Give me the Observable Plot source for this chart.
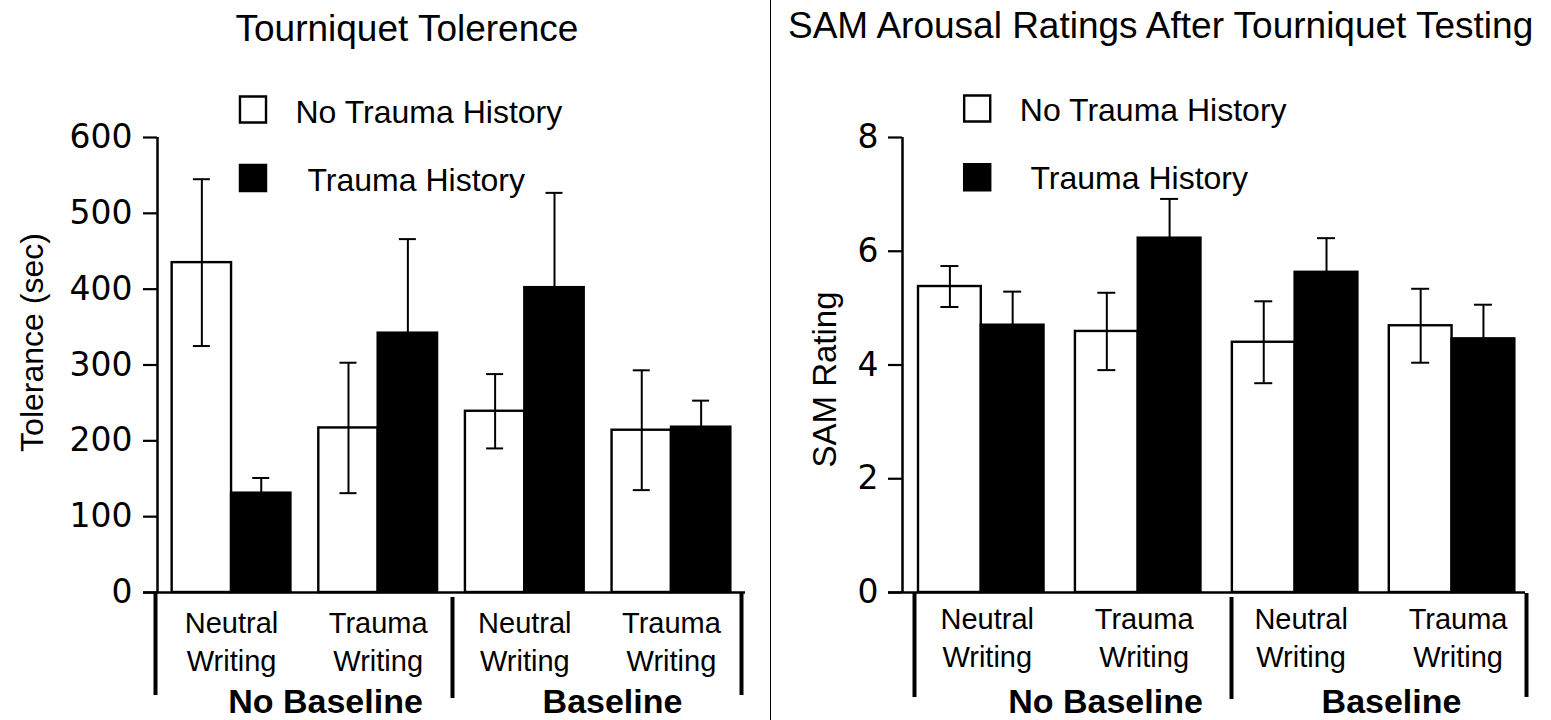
<!DOCTYPE html>
<html><head><meta charset="utf-8">
<script src="https://cdn.jsdelivr.net/npm/d3@7"></script>
<script src="https://cdn.jsdelivr.net/npm/@observablehq/plot@0.6"></script>
<style>
body{margin:0;background:#fff;}
#wrap{position:relative;width:1551px;height:720px;overflow:hidden;background:#fff;}
#left,#right{position:absolute;top:0;height:720px;}
#left{left:0;width:771px;}
#right{left:771px;width:780px;}
#divider{position:absolute;left:770px;top:0;width:1.6px;height:720px;background:#000;}
svg{overflow:visible;}
</style></head><body>
<div id="wrap"><div id="left"></div><div id="divider"></div><div id="right"></div></div>
<script>
// ---- data ----
const conditions = ["No Baseline", "No Baseline", "Baseline", "Baseline"];
const writing = ["Neutral Writing", "Trauma Writing", "Neutral Writing", "Trauma Writing"];
const historyLabels = ["No Trauma History", "Trauma History"];
const tolNoTrauma = [435, 217, 239, 214];
const tolNoTraumaSE = [110, 86, 49, 79];
const tolTrauma = [131, 342, 402, 218];
const tolTraumaSE = [20, 124, 125, 35];
const samNoTrauma = [5.38, 4.59, 4.40, 4.69];
const samNoTraumaSE = [0.36, 0.68, 0.72, 0.65];
const samTrauma = [4.70, 6.23, 5.63, 4.46];
const samTraumaSE = [0.59, 0.69, 0.60, 0.60];
const tolTicks = [0, 100, 200, 300, 400, 500, 600];
const samTicks = [0, 2, 4, 6, 8];
const superLabels = ["No Baseline", "Baseline"];

const SANS = "'Liberation Sans', Arial, Helvetica, sans-serif";

function panel(cfg) {
  const keys = writing.map((w, i) => conditions[i] + "|" + w);
  const white = keys.map((k, i) => ({key: k, mean: cfg.a[i], se: cfg.aSE[i]}));
  const black = keys.map((k, i) => ({key: k, mean: cfg.b[i], se: cfg.bSE[i]}));
  const W = cfg.width, H = 720, mt = cfg.mt, mb = cfg.mb, ml = cfg.ml, mr = cfg.mr;
  const band = d3.scaleBand().domain(keys).range([ml, W - mr])
    .paddingInner(cfg.pi).paddingOuter(cfg.po).align(cfg.align);
  const bw = band.bandwidth();
  const center = k => band(k) + bw / 2;
  const at = (x, y) => ({frameAnchor: "top-left", dx: x - ml, dy: y - mt});
  const frameBottom = H - mb;
  const capW = cfg.capW;
  const L = cfg.legend;

  const marks = [
    // bars
    Plot.barY(white, {x: "key", y: "mean", fill: "white", stroke: "black", strokeWidth: 2.4, insetRight: bw / 2}),
    Plot.barY(black, {x: "key", y: "mean", fill: "black", stroke: "black", strokeWidth: 2.4, insetLeft: bw / 2}),
    // error bars
    Plot.ruleX(white, {x: "key", y1: d => d.mean - d.se, y2: d => d.mean + d.se, dx: -bw / 4, strokeWidth: 2}),
    Plot.tickY(white, {x: "key", y: d => d.mean + d.se, insetLeft: bw / 4 - capW / 2, insetRight: 3 * bw / 4 - capW / 2, strokeWidth: 2}),
    Plot.tickY(white, {x: "key", y: d => d.mean - d.se, insetLeft: bw / 4 - capW / 2, insetRight: 3 * bw / 4 - capW / 2, strokeWidth: 2}),
    Plot.ruleX(black, {x: "key", y1: d => d.mean, y2: d => d.mean + d.se, dx: bw / 4, strokeWidth: 2}),
    Plot.tickY(black, {x: "key", y: d => d.mean + d.se, insetLeft: 3 * bw / 4 - capW / 2, insetRight: bw / 4 - capW / 2, strokeWidth: 2}),
    // axes
    Plot.ruleY([0], {insetLeft: cfg.axisInset, strokeWidth: 2.5}),
    Plot.ruleX([keys[0]], {dx: ml - center(keys[0]), strokeWidth: 2.5}),
    Plot.axisY(cfg.ticks, {tickSize: 14, tickPadding: cfg.tickPadding, tickFormat: d => String(d), fontSize: 33, fontFamily: "'DejaVu Sans', sans-serif", strokeWidth: 2.2, label: null}),
    Plot.text([cfg.yLabel], {...at(cfg.yLabelX, cfg.yLabelY), text: d => d, rotate: -90, textAnchor: "middle", lineAnchor: "bottom", fontSize: cfg.yLabelSize}),
    // category labels
    Plot.text(keys, {x: d => d, text: (d, i) => writing[i].replace(" ", "\n"), frameAnchor: "bottom", lineAnchor: "bottom", dy: cfg.labelBase - frameBottom, dx: cfg.labelDx, fontSize: 29, lineHeight: 1.28}),
    // brackets
    ...cfg.brackets.map(([gi, x, y1, y2]) =>
      Plot.ruleX([keys[gi]], {dx: x - center(keys[gi]), insetTop: y1 - mt, insetBottom: frameBottom - y2, strokeWidth: 4})),
    // super labels
    ...superLabels.map((s, i) =>
      Plot.text([s], {...at(cfg.supers[i], 712), text: d => d, textAnchor: "middle", lineAnchor: "bottom", fontSize: 34, fontWeight: "bold", ariaLabel: "super"})),
    // title
    Plot.text([cfg.title], {...at(cfg.titleX, cfg.titleY), text: d => d, textAnchor: "start", lineAnchor: "bottom", fontSize: 37}),
    // legend
    Plot.dot([historyLabels[0]], {...at(L.sqX, L.sqY1), symbol: "square", r: 14.7, fill: "white", stroke: "black", strokeWidth: 2.4}),
    Plot.dot([historyLabels[1]], {...at(L.sqX, L.sqY2), symbol: "square", r: 14.7, fill: "black", stroke: "black", strokeWidth: 2.4}),
    Plot.text([historyLabels[0]], {...at(L.t1X, L.t1Y), text: d => d, textAnchor: "start", lineAnchor: "bottom", fontSize: 32}),
    Plot.text([historyLabels[1]], {...at(L.t2X, L.t2Y), text: d => d, textAnchor: "start", lineAnchor: "bottom", fontSize: 32})
  ];

  const svg = Plot.plot({
    width: W, height: H,
    marginLeft: ml, marginRight: mr, marginTop: mt, marginBottom: mb,
    x: {type: "band", domain: keys, paddingInner: cfg.pi, paddingOuter: cfg.po, align: cfg.align, round: false, axis: null},
    y: {domain: cfg.domain, axis: null},
    style: {fontFamily: SANS, fontSize: "29px", color: "black", background: "white", overflow: "visible"},
    marks
  });
  d3.select(svg).selectAll('g[aria-label="super"] text')
    .style("letter-spacing", "2px").style("word-spacing", "8px");
  document.querySelector(cfg.el).appendChild(svg);
}

panel({
  el: "#left", width: 771, ml: 157, mr: 26, mt: 137, mb: 128,
  pi: 0.19, po: 0.10, align: 0.5, domain: [0, 600], ticks: tolTicks,
  a: tolNoTrauma, aSE: tolNoTraumaSE, b: tolTrauma, bSE: tolTraumaSE,
  title: "Tourniquet Tolerence", titleX: 235, titleY: 40,
  yLabel: "Tolerance (sec)", yLabelX: 42, yLabelY: 342, yLabelSize: 32,
  legend: {sqX: 252.5, sqY1: 109, sqY2: 177.5, t1X: 295, t1Y: 122, t2X: 307, t2Y: 190},
  brackets: [[0, 155, 593, 695], [2, 452, 597, 698], [3, 741, 593, 695]],
  supers: [325, 612], labelBase: 670, labelDx: 0, capW: 17, tickPadding: 11, axisInset: -14
});

panel({
  el: "#right", width: 780, ml: 131, mr: 26, mt: 137, mb: 128,
  pi: 0.2, po: 0.085, align: 0.6, domain: [0, 8], ticks: samTicks,
  a: samNoTrauma, aSE: samNoTraumaSE, b: samTrauma, bSE: samTraumaSE,
  title: "SAM Arousal Ratings After Tourniquet Testing", titleX: 16.5, titleY: 37,
  yLabel: "SAM Rating", yLabelX: 64, yLabelY: 379, yLabelSize: 33,
  legend: {sqX: 205.7, sqY1: 108, sqY2: 176.7, t1X: 248.3, t1Y: 120, t2X: 259, t2Y: 188},
  brackets: [[0, 143, 593, 697], [2, 460, 597, 699], [3, 755, 593, 697]],
  supers: [334, 620], labelBase: 666, labelDx: 6, capW: 18, tickPadding: 10, axisInset: -14
});
</script>
</body></html>
